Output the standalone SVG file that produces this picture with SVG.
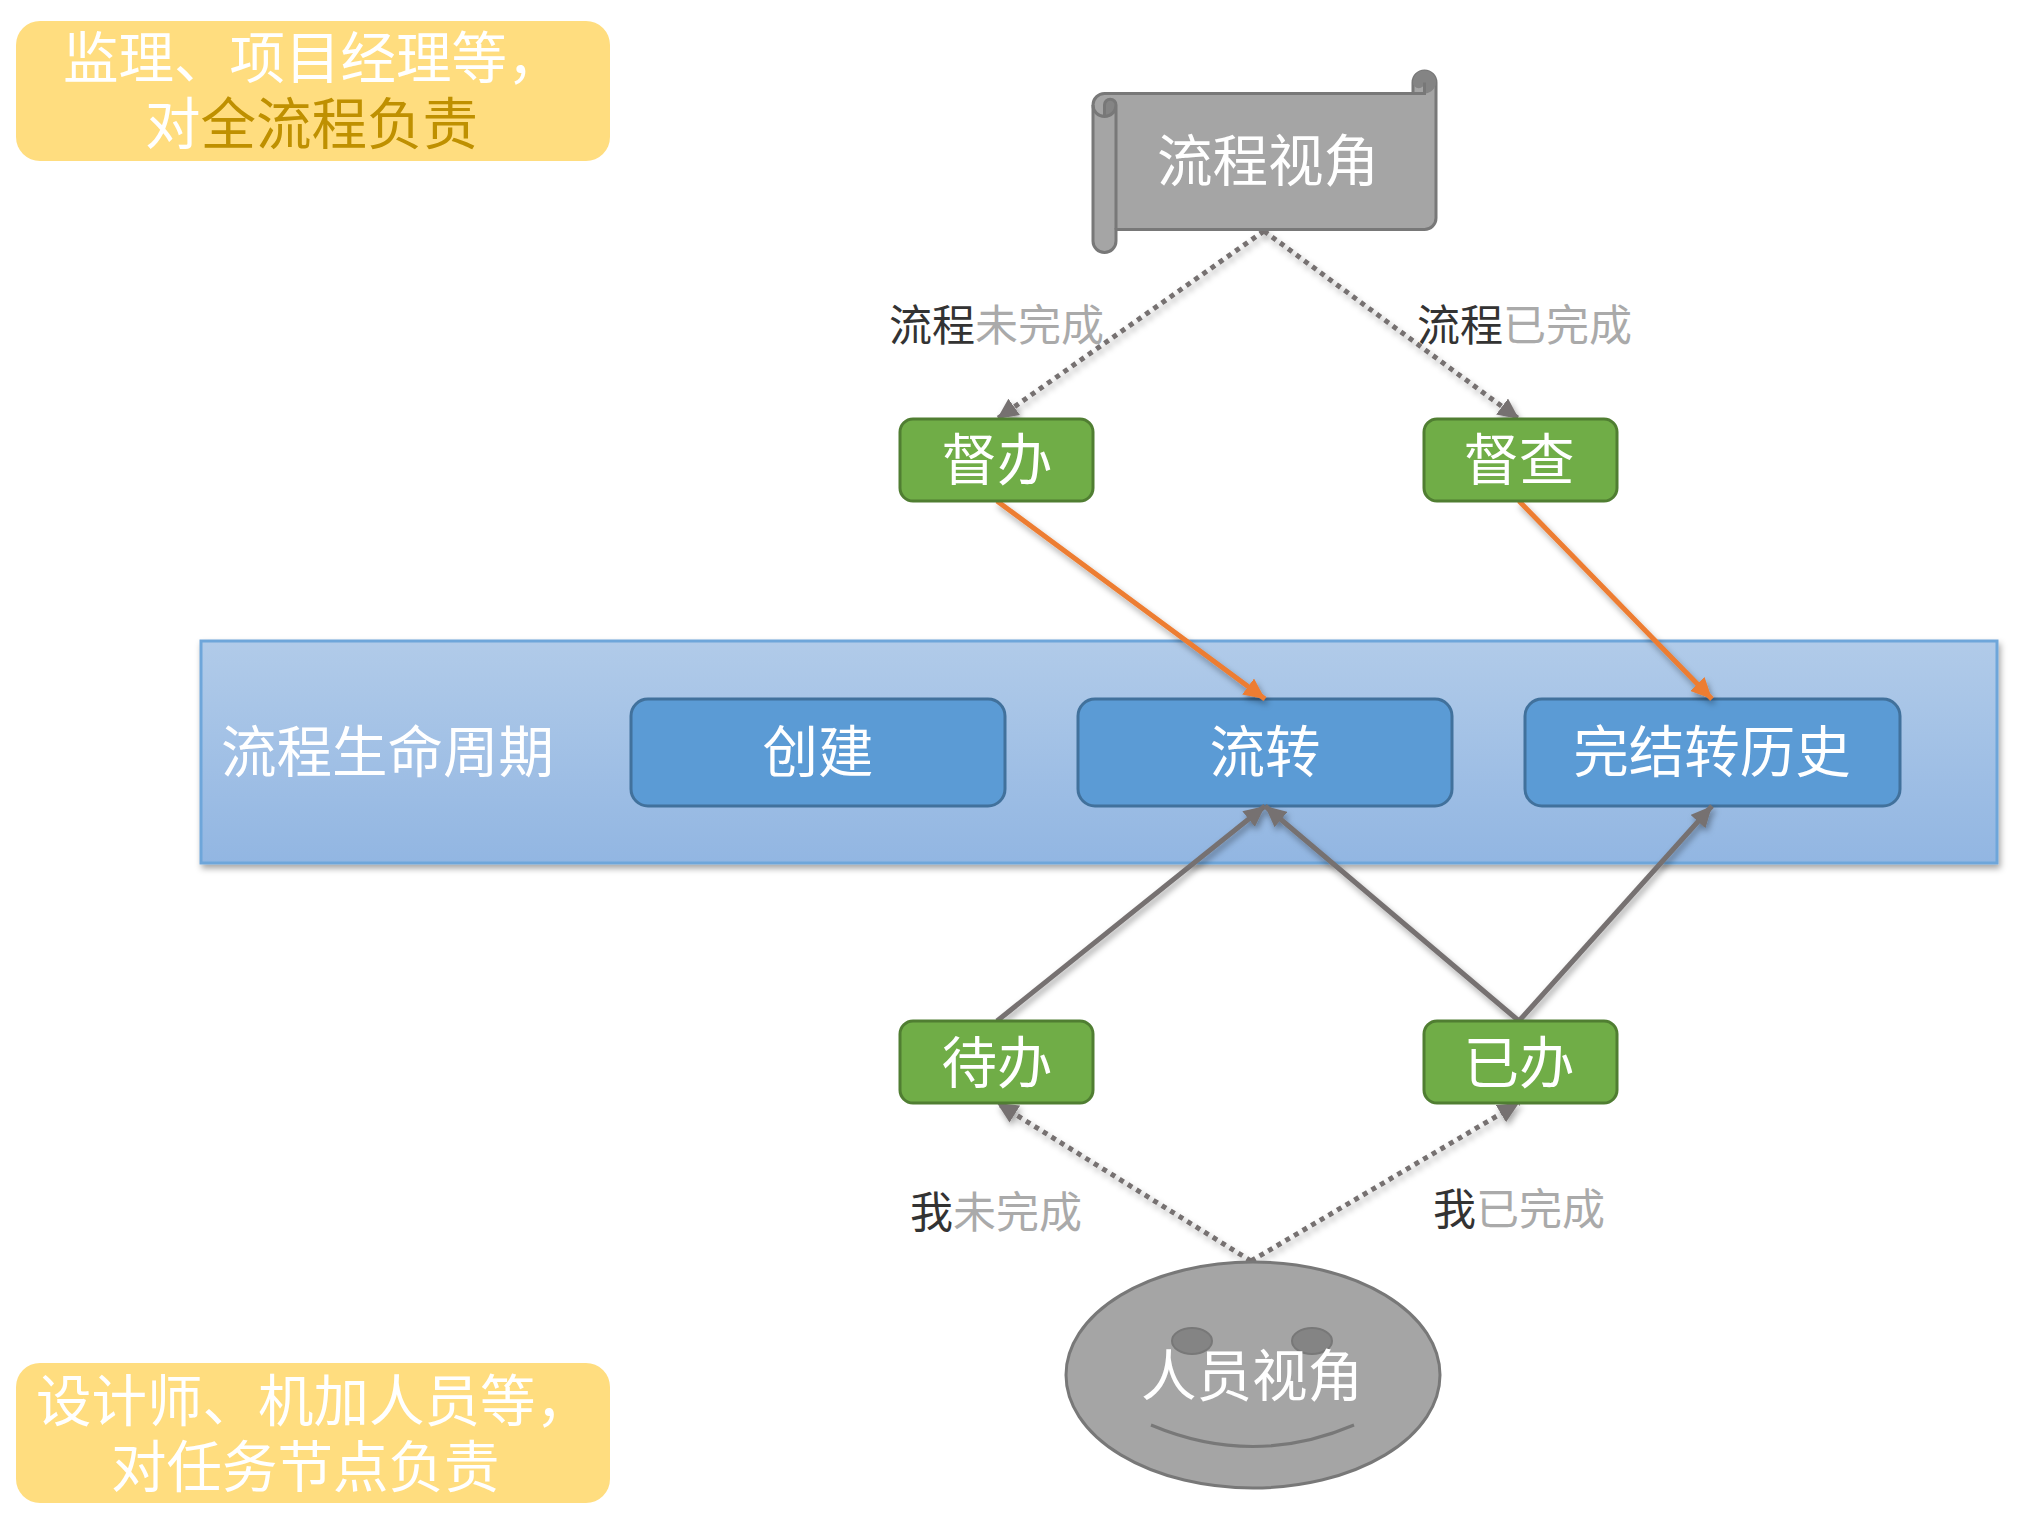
<svg xmlns="http://www.w3.org/2000/svg" width="2031" height="1539" viewBox="0 0 2031 1539">
<style>
text{font-family:"Noto Sans CJK SC","Noto Sans",sans-serif;font-weight:400}
.w{fill:#fff;font-size:55.500px}
.c{text-anchor:middle}
.g{fill:#70ad47;stroke:#507e32;stroke-width:3}
.b{fill:#5b9bd5;stroke:#41719c;stroke-width:3}
.y{fill:#ffdd7f}
.gold{fill:#bf9000}
.s{font-size:43px;fill:#aaa}
.d{fill:#333}
.gray{fill:#a5a5a5;stroke:#787878;stroke-width:3}
.dark{fill:#848484}
.con{fill:none;stroke:#767171;stroke-width:5;filter:url(#sh)}
.dot{stroke-dasharray:5 5;marker-end:url(#ag)}
.sol{marker-end:url(#ag)}
.or{stroke:#ed7d31;marker-end:url(#ao)}
</style>
<defs>
<linearGradient id="bg" x1="0" y1="0" x2="0" y2="1"><stop offset="0" stop-color="#b1cbe9"/><stop offset="1" stop-color="#92b6e2"/></linearGradient>
<filter id="sh" x="-20%" y="-20%" width="140%" height="140%"><feDropShadow dx="2" dy="4" stdDeviation="3" flood-color="#000" flood-opacity=".35"/></filter>
<marker id="ag" viewBox="0 0 21 20" refX="21" refY="10" markerWidth="21" markerHeight="20" markerUnits="userSpaceOnUse" orient="auto"><path d="M0 0L21 10L0 20Z" fill="#767171"/></marker>
<marker id="ao" viewBox="0 0 21 20" refX="21" refY="10" markerWidth="21" markerHeight="20" markerUnits="userSpaceOnUse" orient="auto"><path d="M0 0L21 10L0 20Z" fill="#ed7d31"/></marker>
</defs>
<g id="note-top"><rect class="y" x="16" y="21" width="594" height="140" rx="24"/>
<text class="w" x="63" y="78">监理、项目经理等，</text>
<text class="w" x="145" y="144">对<tspan class="gold">全流程负责</tspan></text></g>
<g id="note-bottom"><rect class="y" x="16" y="1363" width="594" height="140" rx="24"/>
<text class="w" x="36" y="1421">设计师、机加人员等，</text>
<text class="w" x="111" y="1487">对任务节点负责</text></g>
<g id="lifecycle"><rect x="201" y="641" width="1796" height="222" fill="url(#bg)" stroke="#6ea6da" stroke-width="3" filter="url(#sh)"/>
<text class="w" x="221" y="772">流程生命周期</text></g>
<g id="create"><rect class="b" x="631" y="699" width="374" height="107" rx="17"/><text class="w c" x="818" y="772">创建</text></g>
<g id="flow"><rect class="b" x="1078" y="699" width="374" height="107" rx="17"/><text class="w c" x="1265" y="772">流转</text></g>
<g id="history"><rect class="b" x="1525" y="699" width="375" height="107" rx="17"/><text class="w c" x="1712" y="772">完结转历史</text></g>
<g id="connectors">
<path class="con dot" d="M1264 231L997 419"/>
<path class="con dot" d="M1264 231L1519 419"/>
<path class="con dot" d="M1251 1261L997 1103"/>
<path class="con dot" d="M1251 1261L1519 1103"/>
<path class="con or" d="M997 501L1265 699"/>
<path class="con or" d="M1519 501L1712 699"/>
<path class="con sol" d="M997 1021L1265 806"/>
<path class="con sol" d="M1519 1021L1265 806"/>
<path class="con sol" d="M1519 1021L1712 806"/>
</g>
<g id="scroll">
<path class="gray" d="M1436 82.5V218A11.5 11.5 0 0 1 1424.5 229.500H1116V241A11.500 11.500 0 0 1 1093 241V105A11.500 11.500 0 0 1 1104.500 93.500H1413V82.500A11.500 11.500 0 0 1 1436 82.500Z"/>
<path class="dark" d="M1424.500 93.500A11.500 11.500 0 1 0 1413 82.500A5.750 5.750 0 0 0 1424.500 82.500Z"/>
<path class="dark" d="M1104.500 116.500A11.500 11.500 0 0 0 1116 105A5.750 5.750 0 0 0 1104.500 105Z"/>
<path fill="none" stroke="#787878" stroke-width="3" d="M1093 105A11.500 11.500 0 0 0 1116 105V229.500M1116 105A5.750 5.750 0 0 0 1104.500 105V116.500M1413 93.500H1424.500V82.500"/>
<text class="w c" x="1268" y="181">流程视角</text></g>
<g id="duban"><rect class="g" x="900" y="419" width="193" height="82" rx="13"/><text class="w c" x="997" y="480">督办</text></g>
<g id="ducha"><rect class="g" x="1424" y="419" width="193" height="82" rx="13"/><text class="w c" x="1519" y="480">督查</text></g>
<g id="daiban"><rect class="g" x="900" y="1021" width="193" height="82" rx="13"/><text class="w c" x="997" y="1083">待办</text></g>
<g id="yiban"><rect class="g" x="1424" y="1021" width="193" height="82" rx="13"/><text class="w c" x="1519" y="1083">已办</text></g>
<g id="person">
<ellipse class="gray" cx="1253" cy="1375" rx="187" ry="113"/>
<ellipse cx="1192" cy="1341" rx="20" ry="13" fill="#848484" stroke="#787878" stroke-width="2"/>
<ellipse cx="1312" cy="1341" rx="20" ry="13" fill="#848484" stroke="#787878" stroke-width="2"/>
<path d="M1151 1425Q1253 1468 1354 1425" fill="none" stroke="#787878" stroke-width="3"/>
<text class="w c" x="1252" y="1396">人员视角</text></g>
<g id="labels">
<text class="s" x="889" y="341"><tspan class="d">流程</tspan>未完成</text>
<text class="s" x="1417" y="341"><tspan class="d">流程</tspan>已完成</text>
<text class="s" x="910" y="1228"><tspan class="d">我</tspan>未完成</text>
<text class="s" x="1433" y="1225"><tspan class="d">我</tspan>已完成</text>
</g>
</svg>
